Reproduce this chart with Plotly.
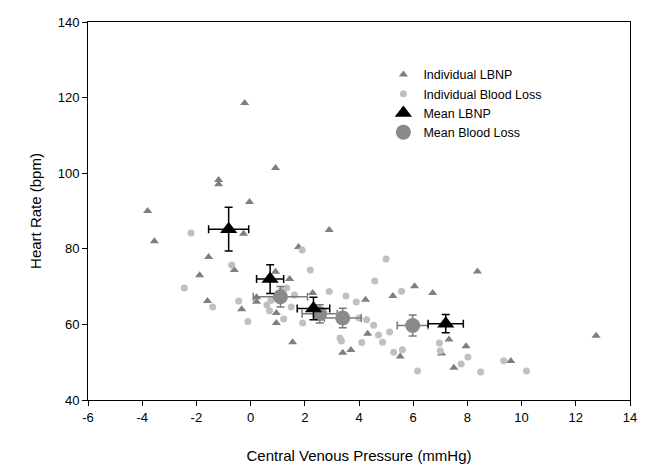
import plotly.graph_objects as go

# Individual LBNP (CVP mmHg, HR bpm)
lbnp_x = [-3.8, -3.55, -1.18, -1.18, -0.22, 0.92, -0.04, -0.26, -1.55, -1.88, -1.59, -0.33,
          -0.6, 1.77, 2.9, 0.92, 1.44, 0.22, 0.22, 0.95, 0.95, 1.55, 2.29, 4.24, 4.32, 3.4,
          3.7, 5.25, 6.05, 6.72, 8.37, 5.52, 7.32, 7.95, 7.05, 7.5, 9.6, 12.75]
lbnp_y = [90, 82, 98.2, 97.1, 118.6, 101.4, 92.4, 84, 77.8, 73, 66.2, 64,
          74.4, 80.5, 85, 73.9, 72, 67.2, 66, 63, 60.4, 55.3, 68.3, 66.5, 57.5, 52.5,
          53.2, 67.5, 70.1, 68.3, 74, 51.5, 56, 54.2, 52.3, 48.5, 50.3, 57]

# Individual Blood Loss
bl_x = [-2.2, -2.45, -1.4, -0.7, -0.44, -0.1, 0.6, 0.7, 0.75, 1.14, 1.33, 1.5, 1.22, 1.92,
        1.9, 2.2, 2.9, 3.52, 3.9, 5.0, 4.58, 5.57, 4.0, 4.28, 4.54, 4.72, 5.13, 4.87, 4.1,
        3.3, 3.35, 5.28, 5.6, 6.16, 6.97, 7.0, 7.77, 8.02, 8.49, 9.34, 10.18, 1.62]
bl_y = [84.2, 69.6, 64.6, 75.7, 66.2, 60.8, 65.1, 63.6, 66.3, 69, 69.6, 64.6, 61.4, 60.4,
        79.7, 74.4, 68.7, 67.5, 65.9, 77.3, 71.5, 68.8, 61.7, 61.2, 59.8, 57.2, 58, 55.3, 55.2,
        56.4, 55.6, 52.6, 53.3, 47.7, 55.1, 53, 49.5, 51.4, 47.4, 50.4, 47.7, 67.8]

# Mean LBNP with errors
mlbnp_x = [-0.81, 0.72, 2.32, 7.2]
mlbnp_y = [85.2, 72.0, 64.2, 60.2]
mlbnp_xerr = [0.74, 0.5, 0.6, 0.65]
mlbnp_yerr = [5.8, 3.8, 3.0, 2.4]

# Mean Blood Loss with errors
mbl_x = [1.1, 2.55, 3.4, 5.98]
mbl_y = [67.3, 62.8, 61.7, 59.7]
mbl_xerr = [1.0, 0.65, 0.68, 0.57]
mbl_yerr = [2.7, 2.4, 2.6, 2.8]

# Tick labels
x_ticks = [-6, -4, -2, 0, 2, 4, 6, 8, 10, 12, 14]
x_ticktext = ["-6", "-4", "-2", "0", "2", "4", "6", "8", "10", "12", "14"]
y_ticks = [40, 60, 80, 100, 120, 140]

fig = go.Figure()
fig.add_trace(go.Scatter(x=lbnp_x, y=lbnp_y, mode="markers", name="Individual LBNP",
                         marker=dict(symbol="triangle-up", size=8, color="#7f7f7f"),
                         legendrank=1))
fig.add_trace(go.Scatter(x=bl_x, y=bl_y, mode="markers", name="Individual Blood Loss",
                         marker=dict(symbol="circle", size=7, color="#c0c0c0"),
                         legendrank=2))
fig.add_trace(go.Scatter(x=mbl_x, y=mbl_y, mode="markers", name="Mean Blood Loss",
                         marker=dict(symbol="circle", size=15, color="#8a8a8a"),
                         error_x=dict(type="data", array=mbl_xerr, color="#7a7a7a", thickness=1.5, width=4),
                         error_y=dict(type="data", array=mbl_yerr, color="#7a7a7a", thickness=1.5, width=4),
                         legendrank=4))
fig.add_trace(go.Scatter(x=mlbnp_x, y=mlbnp_y, mode="markers", name="Mean LBNP",
                         marker=dict(symbol="triangle-up", size=15, color="#000000"),
                         error_x=dict(type="data", array=mlbnp_xerr, color="#000000", thickness=1.5, width=4),
                         error_y=dict(type="data", array=mlbnp_yerr, color="#000000", thickness=1.5, width=4),
                         legendrank=3))

fig.update_layout(
    width=646, height=466,
    margin=dict(l=88, r=16, t=22, b=66),
    paper_bgcolor="white", plot_bgcolor="white",
    font=dict(family="Liberation Sans, Arial, sans-serif", size=12, color="#000"),
    showlegend=True,
    legend=dict(x=0.545, y=0.9, xanchor="left", yanchor="top", bgcolor="rgba(0,0,0,0)",
                traceorder="normal", font=dict(size=12.5), itemsizing="trace",
                tracegroupgap=0),
)
fig.update_xaxes(range=[-6, 14], tickvals=x_ticks, ticktext=x_ticktext,
                 showgrid=False, zeroline=False, automargin=False,
                 showline=True, linecolor="black", linewidth=1, mirror=True,
                 ticks="outside", ticklen=5, tickcolor="black", tickfont=dict(size=13),
                 title=dict(text="Central Venous Pressure (mmHg)", font=dict(size=15), standoff=26))
fig.update_yaxes(range=[40, 140], tickvals=y_ticks, showgrid=False, zeroline=False,
                 automargin=False,
                 showline=True, linecolor="black", linewidth=1, mirror=True,
                 ticks="outside", ticklen=5, tickcolor="black", tickfont=dict(size=13),
                 title=dict(text="Heart Rate (bpm)", font=dict(size=15), standoff=12))

fig.write_html("out.html")
